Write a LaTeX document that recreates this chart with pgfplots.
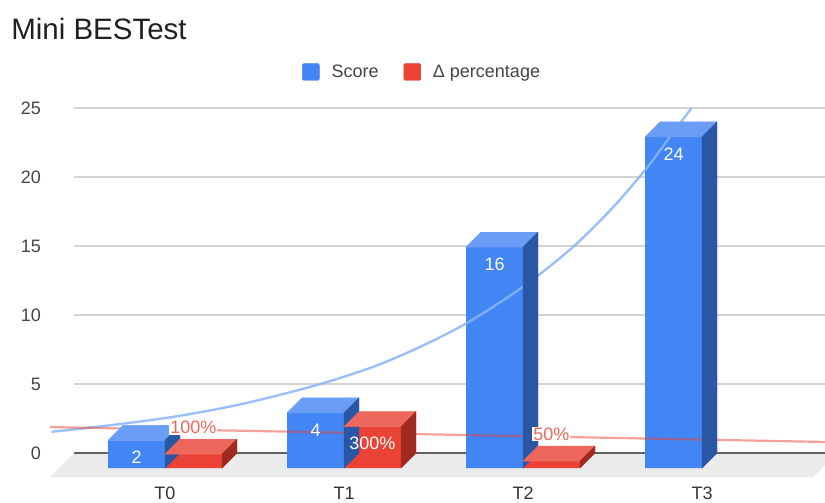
\documentclass[border=0pt]{standalone}
\usepackage{pgfplots}
\pgfplotsset{compat=1.18}
\usepackage{fontspec}
\setmainfont{Liberation Sans}
\definecolor{scoreblue}{HTML}{4285F4}
\definecolor{bluetop}{HTML}{6A9DF6}
\definecolor{blueside}{HTML}{2A56A6}
\definecolor{redfront}{HTML}{EA4335}
\definecolor{redtop}{HTML}{EE675C}
\definecolor{redside}{HTML}{A02A21}
\definecolor{floorgray}{HTML}{EBEBEB}
\definecolor{gridgray}{HTML}{D3D3D3}
\definecolor{zerogray}{HTML}{606060}
\definecolor{ticktext}{HTML}{444444}
\definecolor{cattext}{HTML}{333333}
\definecolor{titletext}{HTML}{202020}
\definecolor{labelred}{HTML}{F0675B}
\definecolor{trendblue}{HTML}{8AB4F8}
\begin{document}
\begin{tikzpicture}
\begin{axis}[
  x=179pt, y=13.8pt,
  xmin=-0.642, xmax=3.6872, ymin=-1.8, ymax=25.5,
  enlargelimits=false, clip=false,
  axis line style={draw=none}, major tick length=0pt,
  xtick={0,1,2,3}, xticklabels={T0,T1,T2,T3},
  ytick={0,5,10,15,20,25},
  /pgf/number format/assume math mode=true,
  ticklabel style={font=\fontsize{18}{18}\selectfont},
  yticklabel style={text=ticktext, anchor=east, inner sep=0pt, xshift=-9pt},
  xticklabel style={text=cattext, anchor=north, inner sep=0pt, yshift=-9pt},
  legend columns=2,
  legend style={at={(axis description cs:0.3250,1.0773)}, anchor=west,
    draw=none, fill=none, inner sep=0pt, column sep=0pt,
    nodes={inner sep=0pt, text=ticktext, font=\fontsize{18}{18}\selectfont}},
]
% floor
\fill[floorgray] (axis cs:-0.642,-1.739) -- (axis cs:3.620,-1.739) -- (axis cs:3.6872,-0.87) -- (axis cs:3.6872,0) -- (axis cs:-0.508,0) -- cycle;
% gridlines
\draw[gridgray, line width=1.3pt] (axis cs:-0.508,5) -- (axis cs:3.6872,5);
\draw[gridgray, line width=1.3pt] (axis cs:-0.508,10) -- (axis cs:3.6872,10);
\draw[gridgray, line width=1.3pt] (axis cs:-0.508,15) -- (axis cs:3.6872,15);
\draw[gridgray, line width=1.3pt] (axis cs:-0.508,20) -- (axis cs:3.6872,20);
\draw[gridgray, line width=1.3pt] (axis cs:-0.508,25) -- (axis cs:3.6872,25);
\draw[zerogray, line width=1.5pt] (axis cs:-0.508,0) -- (axis cs:3.6872,0);

\addlegendimage{legend image code/.code={\fill[scoreblue,rounded corners=1.5pt] (0pt,-8.5pt) rectangle (17pt,8.5pt); \path (29pt,0pt);}}
\addlegendentry{Score}
\addlegendimage{legend image code/.code={\path (-25pt,0pt); \fill[redfront,rounded corners=1.5pt] (0pt,-8.5pt) rectangle (17pt,8.5pt); \path (29pt,0pt);}}
\addlegendentry{Δ percentage}

% Score bars: front faces
\addplot[forget plot, ybar, bar width=57pt, bar shift=-28.5pt, fill=scoreblue, draw=none, yshift=-15pt]
  coordinates {(0,2) (1,4) (2,16) (3,24)};
% Score bars: top and side faces
\addplot[forget plot, scatter, only marks, mark=*, mark size=0.001pt,
  mark options={draw=none, fill=none},
  visualization depends on={rawy \as \ry},
  scatter/@pre marker code/.code={%
    \pgfmathsetmacro\hs{-13.8*\ry}%
    \pgfmathsetmacro\hb{-15-13.8*\ry}%
    \fill[bluetop] (-57pt,-15pt) -- (0pt,-15pt) -- (15pt,0pt) -- (-42pt,0pt) -- cycle;
    \fill[blueside] (0pt,\hb pt) -- (15pt,\hs pt) -- (15pt,0pt) -- (0pt,-15pt) -- cycle;
  },
  scatter/@post marker code/.code={}]
  coordinates {(0,2) (1,4) (2,16) (3,24)};
% Delta bars: front faces
\addplot[forget plot, ybar, bar width=57pt, bar shift=28.5pt, fill=redfront, draw=none, yshift=-15pt]
  coordinates {(0,1) (1,3) (2,0.5)};
\addplot[forget plot, scatter, only marks, mark=*, mark size=0.001pt,
  mark options={draw=none, fill=none},
  visualization depends on={rawy \as \ry},
  scatter/@pre marker code/.code={%
    \pgfmathsetmacro\hs{-13.8*\ry}%
    \pgfmathsetmacro\hb{-15-13.8*\ry}%
    \fill[redtop] (0pt,-15pt) -- (57pt,-15pt) -- (72pt,0pt) -- (15pt,0pt) -- cycle;
    \fill[redside] (57pt,\hb pt) -- (72pt,\hs pt) -- (72pt,0pt) -- (57pt,-15pt) -- cycle;
  },
  scatter/@post marker code/.code={}]
  coordinates {(0,1) (1,3) (2,0.5)};

% trendlines
\addplot[forget plot, smooth, draw=trendblue, draw opacity=0.85, line width=2.4pt, mark=none]
  coordinates {(-0.633,1.54) (-0.326,1.98) (0.046,2.62) (0.419,3.52) (0.828,4.85) (1.164,6.25)
   (1.443,7.8) (1.704,9.55) (2.011,12.15) (2.281,14.95) (2.504,17.82) (2.691,20.65) (2.840,23.25) (2.942,25.0)};
\addplot[forget plot, draw=redfront, draw opacity=0.5, line width=2.2pt, mark=none]
  coordinates {(-0.642,1.88) (3.6872,0.80)};

% data labels
\addplot[forget plot, draw=none, mark=none, nodes near coords, point meta=explicit symbolic,
  every node near coord/.style={anchor=center, inner sep=0pt, yshift=-32pt, text=white, font=\fontsize{18}{18}\selectfont}]
  coordinates {(-0.159,2)[2] (0.841,4)[4] (1.841,16)[16] (2.841,24)[24] (1.159,3)[300\%]};
\addplot[forget plot, draw=none, mark=none, nodes near coords, point meta=explicit symbolic,
  every node near coord/.style={anchor=center, inner sep=1pt, yshift=12pt, fill=white, text=labelred, font=\fontsize{18}{18}\selectfont}]
  coordinates {(0.159,1)[100\%] (2.159,0.5)[50\%]};

\node[anchor=base west, inner sep=0pt, text=titletext, font=\fontsize{29.5}{30}\selectfont] at (axis cs:-0.860,29.98) {Mini BESTest};

\coordinate (bbl) at (axis cs:-0.92179,-3.5507);
\coordinate (btr) at (axis cs:3.68715,32.8261);
\end{axis}
\pgfresetboundingbox
\useasboundingbox (bbl) rectangle (btr);
\end{tikzpicture}
\end{document}
